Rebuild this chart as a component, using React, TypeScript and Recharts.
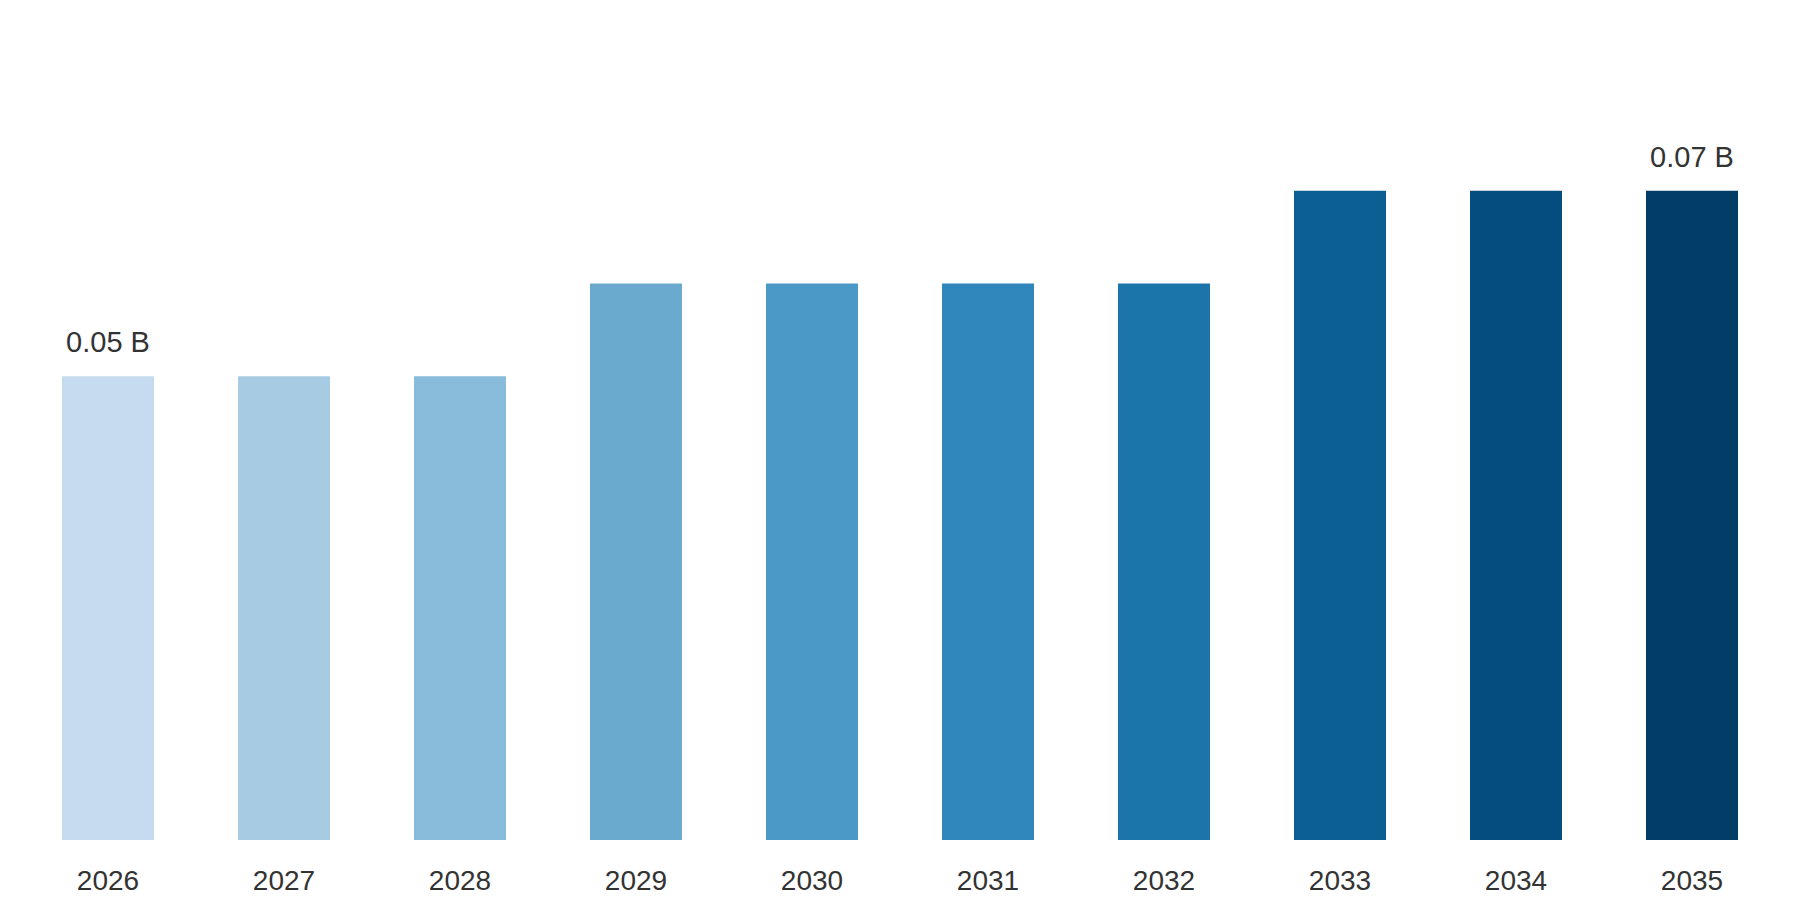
import { BarChart, Bar, XAxis, YAxis, Cell, LabelList } from 'recharts';

const years = ['2026', '2027', '2028', '2029', '2030', '2031', '2032', '2033', '2034', '2035'];
const values = [0.05, 0.05, 0.05, 0.06, 0.06, 0.06, 0.06, 0.07, 0.07, 0.07];
const colors = [
  '#c6dbef', '#a7cbe3', '#89bbda', '#6aaacf', '#4b99c7',
  '#3087bc', '#1c75aa', '#0c5f93', '#034e7e', '#023d68',
];
// only the first and last bars carry a value label
const labelled = [0, years.length - 1];

const FONT = '"Liberation Sans", Arial, sans-serif';

export default function App() {
  const chartData = years.map((year, i) => ({ year, value: values[i] }));

  const renderTick = (props: any) => {
    const { x, y, payload } = props;
    return (
      <text x={x} y={y + 48} textAnchor="middle" fill="#333" fontSize={28} fontFamily={FONT}>
        {payload.value}
      </text>
    );
  };

  const renderLabel = (props: any) => {
    const { x, y, width, value, index } = props;
    if (!labelled.includes(index)) return <g />;
    return (
      <text x={x + width / 2} y={y - 24} textAnchor="middle" fill="#333" fontSize={29} fontFamily={FONT}>
        {`${value.toFixed(2)} B`}
      </text>
    );
  };

  return (
    <div style={{ position: 'fixed', top: 0, left: 0, width: 1800, height: 900, background: '#fff' }}>
      <BarChart
        width={1800}
        height={900}
        data={chartData}
        margin={{ top: 98, right: 20, bottom: 0, left: 20 }}
      >
        <XAxis
          dataKey="year"
          axisLine={false}
          tickLine={false}
          tickSize={0}
          tick={renderTick}
          interval={0}
          height={60}
        />
        <YAxis hide domain={[0, 0.08]} />
        <Bar dataKey="value" barSize={92} isAnimationActive={false}>
          {chartData.map((d, i) => (
            <Cell key={d.year} fill={colors[i]} />
          ))}
          <LabelList dataKey="value" content={renderLabel} />
        </Bar>
      </BarChart>
    </div>
  );
}
